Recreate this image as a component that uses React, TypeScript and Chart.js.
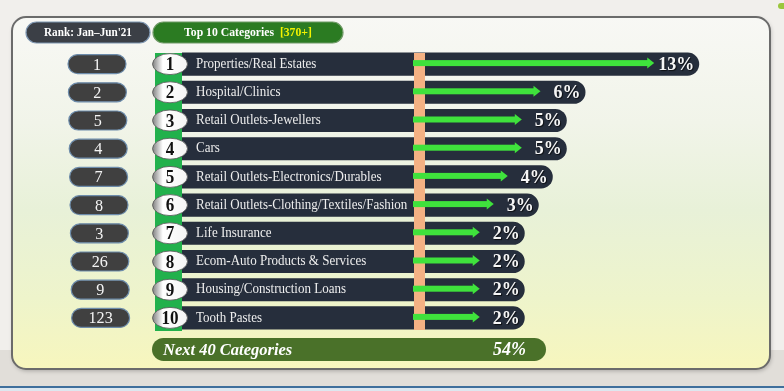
import { useEffect, useRef } from "react";
import { Chart, registerables } from "chart.js";

Chart.register(...registerables);

// ---------- data ----------
const CATEGORIES = [
  "Properties/Real Estates",
  "Hospital/Clinics",
  "Retail Outlets-Jewellers",
  "Cars",
  "Retail Outlets-Electronics/Durables",
  "Retail Outlets-Clothing/Textiles/Fashion",
  "Life Insurance",
  "Ecom-Auto Products & Services",
  "Housing/Construction Loans",
  "Tooth Pastes",
];
const POSITIONS = ["1", "2", "3", "4", "5", "6", "7", "8", "9", "10"];
const RANKS_JAN_JUN21 = ["1", "2", "5", "4", "7", "8", "3", "26", "9", "123"];
const SHARE = [13.2, 5.9, 4.7, 4.7, 3.8, 2.9, 2.0, 2.0, 2.0, 2.0];
const SHARE_LABELS = ["13%", "6%", "5%", "5%", "4%", "3%", "2%", "2%", "2%", "2%"];
const OTHERS_LABEL = "Next 40 Categories";
const OTHERS_SHARE = "54%";
const HEADER_RANK = "Rank: Jan–Jun'21";
const HEADER_TOP = "Top 10 Categories";
const HEADER_COUNT = "[370+]";
const X_MIN = -20;
const X_MAX = 18;

const SERIF = '"Liberation Serif", "DejaVu Serif", serif';

function rr(ctx: CanvasRenderingContext2D, x: number, y: number, w: number, h: number, r: number | number[]) {
  const [tl, tr, br, bl] = Array.isArray(r) ? r : [r, r, r, r];
  ctx.beginPath();
  ctx.moveTo(x + tl, y);
  ctx.lineTo(x + w - tr, y);
  if (tr) ctx.arcTo(x + w, y, x + w, y + tr, tr);
  else ctx.lineTo(x + w, y);
  ctx.lineTo(x + w, y + h - br);
  if (br) ctx.arcTo(x + w, y + h, x + w - br, y + h, br);
  else ctx.lineTo(x + w, y + h);
  ctx.lineTo(x + bl, y + h);
  if (bl) ctx.arcTo(x, y + h, x, y + h - bl, bl);
  else ctx.lineTo(x, y + h);
  ctx.lineTo(x, y + tl);
  if (tl) ctx.arcTo(x, y, x + tl, y, tl);
  else ctx.lineTo(x, y);
  ctx.closePath();
}

// text drawn with a horizontal squeeze (the original uses a narrow serif)
function txt(ctx: CanvasRenderingContext2D, s: string, x: number, y: number, sx: number) {
  ctx.save();
  ctx.translate(x, y);
  ctx.scale(sx, 1);
  ctx.fillText(s, 0, 0);
  ctx.restore();
}

const backgroundPlugin = {
  id: "infographicBackground",
  beforeDraw(chart: any) {
    const ctx: CanvasRenderingContext2D = chart.ctx;
    const W = chart.width;
    const H = chart.height;
    const yScale = chart.scales.y;
    ctx.save();
    // outer background
    ctx.fillStyle = "#f1efec";
    ctx.fillRect(0, 0, W, H);
    ctx.fillStyle = "#e1ded9";
    ctx.fillRect(0, 350, W, 36);
    ctx.fillStyle = "#3f6f9c";
    ctx.fillRect(0, 386, W, 2);
    ctx.fillStyle = "#dde7ef";
    ctx.fillRect(0, 388, W, 3);
    // small mark top-right
    ctx.fillStyle = "#9bc63d";
    rr(ctx, 778, 3, 8, 6, 3);
    ctx.fill();

    // panel
    const grad = ctx.createLinearGradient(0, 17, 0, 369);
    grad.addColorStop(0, "#f8f8f5");
    grad.addColorStop(0.3, "#f1f4e9");
    grad.addColorStop(0.55, "#e8f1d8");
    grad.addColorStop(0.8, "#eef4cb");
    grad.addColorStop(1, "#f7f6bd");
    ctx.shadowColor = "rgba(0,0,0,0.25)";
    ctx.shadowBlur = 4;
    ctx.shadowOffsetX = 1;
    ctx.shadowOffsetY = 2;
    rr(ctx, 12, 17, 758, 352, 14);
    ctx.fillStyle = grad;
    ctx.fill();
    ctx.shadowColor = "transparent";
    ctx.lineWidth = 2;
    ctx.strokeStyle = "#6b6b6b";
    ctx.stroke();

    // header pills
    rr(ctx, 26, 22, 124, 21, 10.5);
    ctx.fillStyle = "#3b3f46";
    ctx.fill();
    ctx.lineWidth = 1.2;
    ctx.strokeStyle = "#7d95b0";
    ctx.stroke();
    ctx.fillStyle = "#ffffff";
    ctx.font = `bold 13px ${SERIF}`;
    ctx.textAlign = "center";
    ctx.textBaseline = "middle";
    txt(ctx, HEADER_RANK, 88, 33, 0.86);

    rr(ctx, 153, 22, 190, 21, 10.5);
    ctx.fillStyle = "#2b7b22";
    ctx.fill();
    ctx.strokeStyle = "#6f9a66";
    ctx.stroke();
    ctx.font = `bold 13px ${SERIF}`;
    ctx.textAlign = "left";
    const sq = 0.9;
    const t1 = HEADER_TOP + "  ";
    const w1 = ctx.measureText(t1).width * sq;
    const w2 = ctx.measureText(HEADER_COUNT).width * sq;
    const sx = 248 - (w1 + w2) / 2;
    ctx.fillStyle = "#ffffff";
    txt(ctx, t1, sx, 33, sq);
    ctx.fillStyle = "#f2f200";
    txt(ctx, HEADER_COUNT, sx + w1, 33, sq);

    // green strip behind position circles
    const top = chart.chartArea.top + 3;
    const bottom = chart.chartArea.bottom - 1;
    ctx.fillStyle = "#22b14c";
    ctx.fillRect(155, top, 27, bottom - top);

    // rank pills
    CATEGORIES.forEach((_, i) => {
      const y = yScale.getPixelForValue(i);
      const x = 68 + i * 0.4;
      rr(ctx, x, y - 9.5, 58, 19, 9.5);
      ctx.fillStyle = "#404040";
      ctx.fill();
      ctx.lineWidth = 1.2;
      ctx.strokeStyle = "#6d8cab";
      ctx.stroke();
      ctx.fillStyle = "#f4f4f4";
      ctx.font = `17px ${SERIF}`;
      ctx.textAlign = "center";
      ctx.textBaseline = "middle";
      txt(ctx, RANKS_JAN_JUN21[i], x + 29, y + 1, 0.95);
    });

    // next 40 categories pill
    const ny = yScale.getPixelForValue(CATEGORIES.length - 1) + 31.5;
    rr(ctx, 152, ny - 11.5, 394, 23, 11.5);
    ctx.fillStyle = "#4a7129";
    ctx.fill();
    ctx.fillStyle = "#ffffff";
    ctx.font = `italic bold 16.5px ${SERIF}`;
    ctx.textAlign = "left";
    ctx.fillText(OTHERS_LABEL, 163, ny + 1);
    ctx.font = `italic bold 18px ${SERIF}`;
    ctx.textAlign = "right";
    ctx.fillText(OTHERS_SHARE, 526, ny + 1);
    ctx.restore();
  },
};

const overlayPlugin = {
  id: "infographicOverlay",
  afterDatasetsDraw(chart: any) {
    const ctx: CanvasRenderingContext2D = chart.ctx;
    const meta = chart.getDatasetMeta(0);
    const top = chart.chartArea.top + 3;
    const bottom = chart.chartArea.bottom - 2;
    ctx.save();
    // orange marker line
    ctx.fillStyle = "#f4b183";
    ctx.fillRect(414, top, 11, bottom - top);

    meta.data.forEach((el: any, i: number) => {
      const bx = el.x;
      const by = el.y;
      const tip = bx - 45;
      // arrow
      ctx.fillStyle = "#3fe23c";
      ctx.fillRect(413, by - 4, tip - 6 - 413, 6);
      ctx.beginPath();
      ctx.moveTo(tip - 7, by - 6.5);
      ctx.lineTo(tip, by - 1);
      ctx.lineTo(tip - 7, by + 4.5);
      ctx.closePath();
      ctx.fill();

      // percent label
      ctx.shadowColor = "rgba(0,0,0,0.7)";
      ctx.shadowBlur = 1;
      ctx.shadowOffsetX = 1;
      ctx.shadowOffsetY = 1;
      ctx.fillStyle = "#f6f6f6";
      ctx.font = `bold 18px ${SERIF}`;
      ctx.textAlign = "right";
      ctx.textBaseline = "middle";
      ctx.fillText(SHARE_LABELS[i], bx - 5, by + 1);
      ctx.shadowColor = "transparent";

      // position circle
      const g = ctx.createLinearGradient(152, 0, 188, 0);
      g.addColorStop(0, "#7a7a7a");
      g.addColorStop(0.3, "#ffffff");
      g.addColorStop(1, "#f4f4f4");
      ctx.beginPath();
      ctx.ellipse(170, by, 17.5, 10.5, 0, 0, Math.PI * 2);
      ctx.fillStyle = g;
      ctx.fill();
      ctx.lineWidth = 0.8;
      ctx.strokeStyle = "#555555";
      ctx.stroke();
      ctx.fillStyle = "#111111";
      ctx.font = `bold 18px ${SERIF}`;
      ctx.textAlign = "center";
      txt(ctx, POSITIONS[i], 170, by + 1.5, 0.95);

      // category label
      ctx.fillStyle = "#eeeeee";
      ctx.font = `14px ${SERIF}`;
      ctx.textAlign = "left";
      txt(ctx, CATEGORIES[i], 196, by, 0.93);
    });
    ctx.restore();
  },
};

export default function App() {
  const ref = useRef<HTMLCanvasElement>(null);
  useEffect(() => {
    if (!ref.current) return;
    const chart = new Chart(ref.current, {
      type: "bar",
      data: {
        labels: CATEGORIES,
        datasets: [
          {
            label: "Share",
            data: SHARE,
            base: X_MIN,
            backgroundColor: "#262e3c",
            borderSkipped: false,
            borderRadius: { topLeft: 0, bottomLeft: 0, topRight: 12, bottomRight: 12 },
            categoryPercentage: 1,
            barPercentage: 0.82,
          } as any,
        ],
      },
      options: {
        indexAxis: "y",
        responsive: false,
        animation: false,
        events: [],
        layout: { padding: { left: 182, right: 10, top: 50, bottom: 59 } },
        scales: {
          x: { type: "linear", min: X_MIN, max: X_MAX, display: false },
          y: { type: "category", display: false },
        },
        plugins: {
          legend: { display: false },
          tooltip: { enabled: false },
        },
      },
      plugins: [backgroundPlugin, overlayPlugin],
    });
    return () => chart.destroy();
  }, []);
  return (
    <div style={{ position: "fixed", left: 0, top: 0, width: 784, height: 391 }}>
      <canvas ref={ref} width={784} height={391} style={{ width: 784, height: 391, display: "block" }} />
    </div>
  );
}
